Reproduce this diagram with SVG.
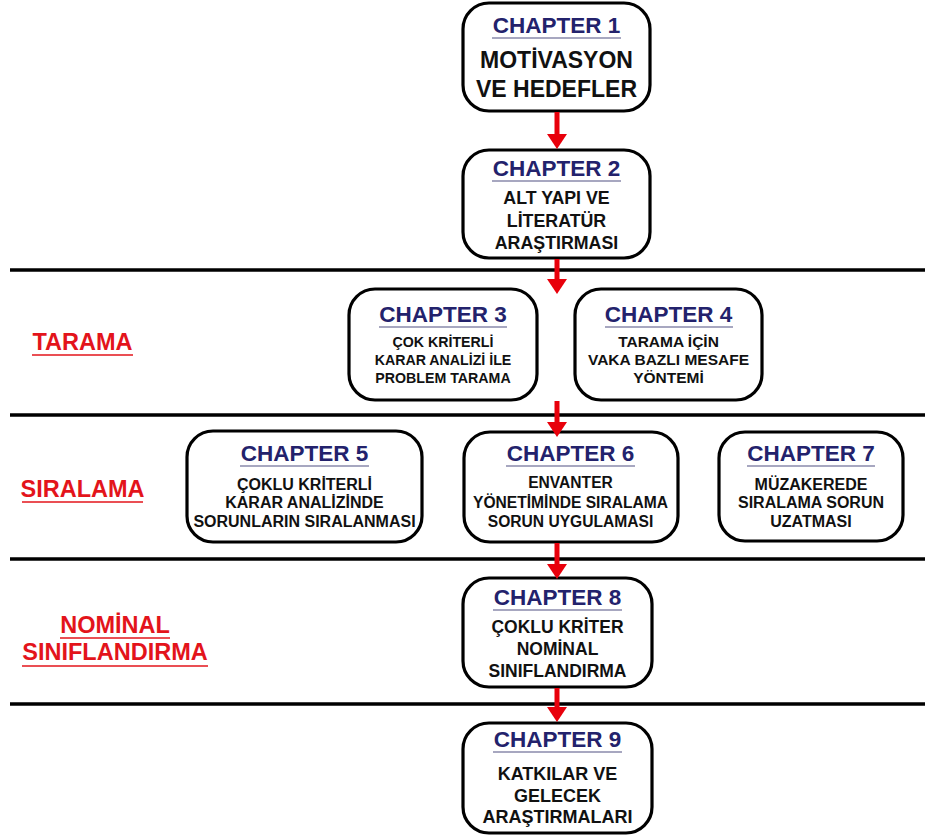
<svg xmlns="http://www.w3.org/2000/svg" width="925" height="840" viewBox="0 0 925 840">
<defs>
<style>
.box{fill:#fff;stroke:#000;stroke-width:3.2}
.ch{font-family:"Liberation Sans",Arial,sans-serif;font-weight:bold;font-size:22.5px;fill:#23226c;text-anchor:middle}
.ul{stroke:#8a8aab;stroke-width:1.5}
.t{font-family:"Liberation Sans",Arial,sans-serif;font-weight:bold;fill:#111;text-anchor:middle}
.lab{font-family:"Liberation Sans",Arial,sans-serif;font-weight:bold;font-size:23.5px;fill:#e3141b;text-anchor:middle}
.lul{stroke:#e3141b;stroke-width:1.5}
.sep{stroke:#000;stroke-width:3.5}
.arr{stroke:#e8000b;stroke-width:5;fill:none;marker-end:url(#ah)}
</style>
<marker id="ah" markerUnits="userSpaceOnUse" markerWidth="15" markerHeight="20" viewBox="0 0 15 20" refX="1" refY="10" orient="auto">
<path d="M0,0 L15,10 L0,20 Z" fill="#e8000b"/>
</marker>
</defs>
<rect width="925" height="840" fill="#fff"/>

<g id="separators">
<line class="sep" x1="10" y1="270" x2="925" y2="270"/>
<line class="sep" x1="10" y1="415" x2="925" y2="415"/>
<line class="sep" x1="10" y1="559" x2="925" y2="559"/>
<line class="sep" x1="10" y1="704" x2="925" y2="704"/>
</g>

<g id="labels">
<text class="lab" x="82.5" y="350">TARAMA</text>
<line class="lul" x1="32" y1="355" x2="133" y2="355"/>
<text class="lab" x="82.5" y="497">SIRALAMA</text>
<line class="lul" x1="22" y1="502" x2="143" y2="502"/>
<text class="lab" x="115" y="633">NOMİNAL</text>
<line class="lul" x1="60" y1="638" x2="170" y2="638"/>
<text class="lab" x="115" y="660">SINIFLANDIRMA</text>
<line class="lul" x1="22" y1="666" x2="208" y2="666"/>
</g>

<g id="node1">
<rect class="box" x="463" y="3" width="187" height="108" rx="26"/>
<text class="ch" x="556.5" y="33">CHAPTER 1</text>
<line class="ul" x1="492" y1="38" x2="621" y2="38"/>
<text class="t" x="556.5" y="68" font-size="23">MOTİVASYON</text>
<text class="t" x="556.5" y="97" font-size="23">VE HEDEFLER</text>
</g>

<g id="node2">
<rect class="box" x="463" y="150" width="187" height="108" rx="26"/>
<text class="ch" x="556.5" y="176">CHAPTER 2</text>
<line class="ul" x1="492" y1="181" x2="621" y2="181"/>
<text class="t" x="556.5" y="204" font-size="17.8">ALT YAPI VE</text>
<text class="t" x="556.5" y="227" font-size="17.8">LİTERATÜR</text>
<text class="t" x="556.5" y="249" font-size="17.8">ARAŞTIRMASI</text>
</g>

<g id="node3">
<rect class="box" x="349" y="289" width="188" height="111" rx="26"/>
<text class="ch" x="443" y="322">CHAPTER 3</text>
<line class="ul" x1="379" y1="327" x2="507" y2="327"/>
<text class="t" x="443" y="347" font-size="14.2">ÇOK KRİTERLİ</text>
<text class="t" x="443" y="365" font-size="14.2">KARAR ANALİZİ İLE</text>
<text class="t" x="443" y="383" font-size="14.2">PROBLEM TARAMA</text>
</g>

<g id="node4">
<rect class="box" x="575" y="289" width="187" height="111" rx="26"/>
<text class="ch" x="668.5" y="322">CHAPTER 4</text>
<line class="ul" x1="605" y1="327" x2="733" y2="327"/>
<text class="t" x="668.5" y="347" font-size="15.5">TARAMA İÇİN</text>
<text class="t" x="668.5" y="365" font-size="15.5">VAKA BAZLI MESAFE</text>
<text class="t" x="668.5" y="383" font-size="15.5">YÖNTEMİ</text>
</g>

<g id="node5">
<rect class="box" x="187" y="431" width="235" height="111" rx="26"/>
<text class="ch" x="304.5" y="461">CHAPTER 5</text>
<line class="ul" x1="240" y1="466" x2="369" y2="466"/>
<text class="t" x="304.5" y="490" font-size="16">ÇOKLU KRİTERLİ</text>
<text class="t" x="304.5" y="508" font-size="16">KARAR ANALİZİNDE</text>
<text class="t" x="304.5" y="527" font-size="16">SORUNLARIN SIRALANMASI</text>
</g>

<g id="node6">
<rect class="box" x="464" y="432" width="214" height="110" rx="26"/>
<text class="ch" x="570.5" y="461">CHAPTER 6</text>
<line class="ul" x1="506" y1="466" x2="635" y2="466"/>
<text class="t" x="570.5" y="488" font-size="15.6">ENVANTER</text>
<text class="t" x="570.5" y="508" font-size="15.6">YÖNETİMİNDE SIRALAMA</text>
<text class="t" x="570.5" y="527" font-size="15.6">SORUN UYGULAMASI</text>
</g>

<g id="node7">
<rect class="box" x="719" y="432" width="184" height="109" rx="26"/>
<text class="ch" x="811" y="461">CHAPTER 7</text>
<line class="ul" x1="747" y1="466" x2="875" y2="466"/>
<text class="t" x="811" y="490" font-size="16">MÜZAKEREDE</text>
<text class="t" x="811" y="508" font-size="16">SIRALAMA SORUN</text>
<text class="t" x="811" y="527" font-size="16">UZATMASI</text>
</g>

<g id="node8">
<rect class="box" x="463" y="578" width="189" height="109" rx="26"/>
<text class="ch" x="557.5" y="605">CHAPTER 8</text>
<line class="ul" x1="493" y1="610" x2="622" y2="610"/>
<text class="t" x="557.5" y="633" font-size="17.5">ÇOKLU KRİTER</text>
<text class="t" x="557.5" y="655" font-size="17.5">NOMİNAL</text>
<text class="t" x="557.5" y="677" font-size="17.5">SINIFLANDIRMA</text>
</g>

<g id="node9">
<rect class="box" x="463" y="723" width="189" height="110" rx="26"/>
<text class="ch" x="557.5" y="747">CHAPTER 9</text>
<line class="ul" x1="493" y1="752" x2="622" y2="752"/>
<text class="t" x="557.5" y="780" font-size="18">KATKILAR VE</text>
<text class="t" x="557.5" y="802" font-size="18">GELECEK</text>
<text class="t" x="557.5" y="823" font-size="18">ARAŞTIRMALARI</text>
</g>

<g id="connectors">
<line class="arr" x1="557" y1="112" x2="557" y2="135"/>
<line class="arr" x1="557" y1="259" x2="557" y2="280"/>
<line class="arr" x1="557" y1="401" x2="557" y2="423"/>
<line class="arr" x1="557" y1="543" x2="557" y2="565"/>
<line class="arr" x1="557" y1="688" x2="557" y2="708"/>
</g>
</svg>
